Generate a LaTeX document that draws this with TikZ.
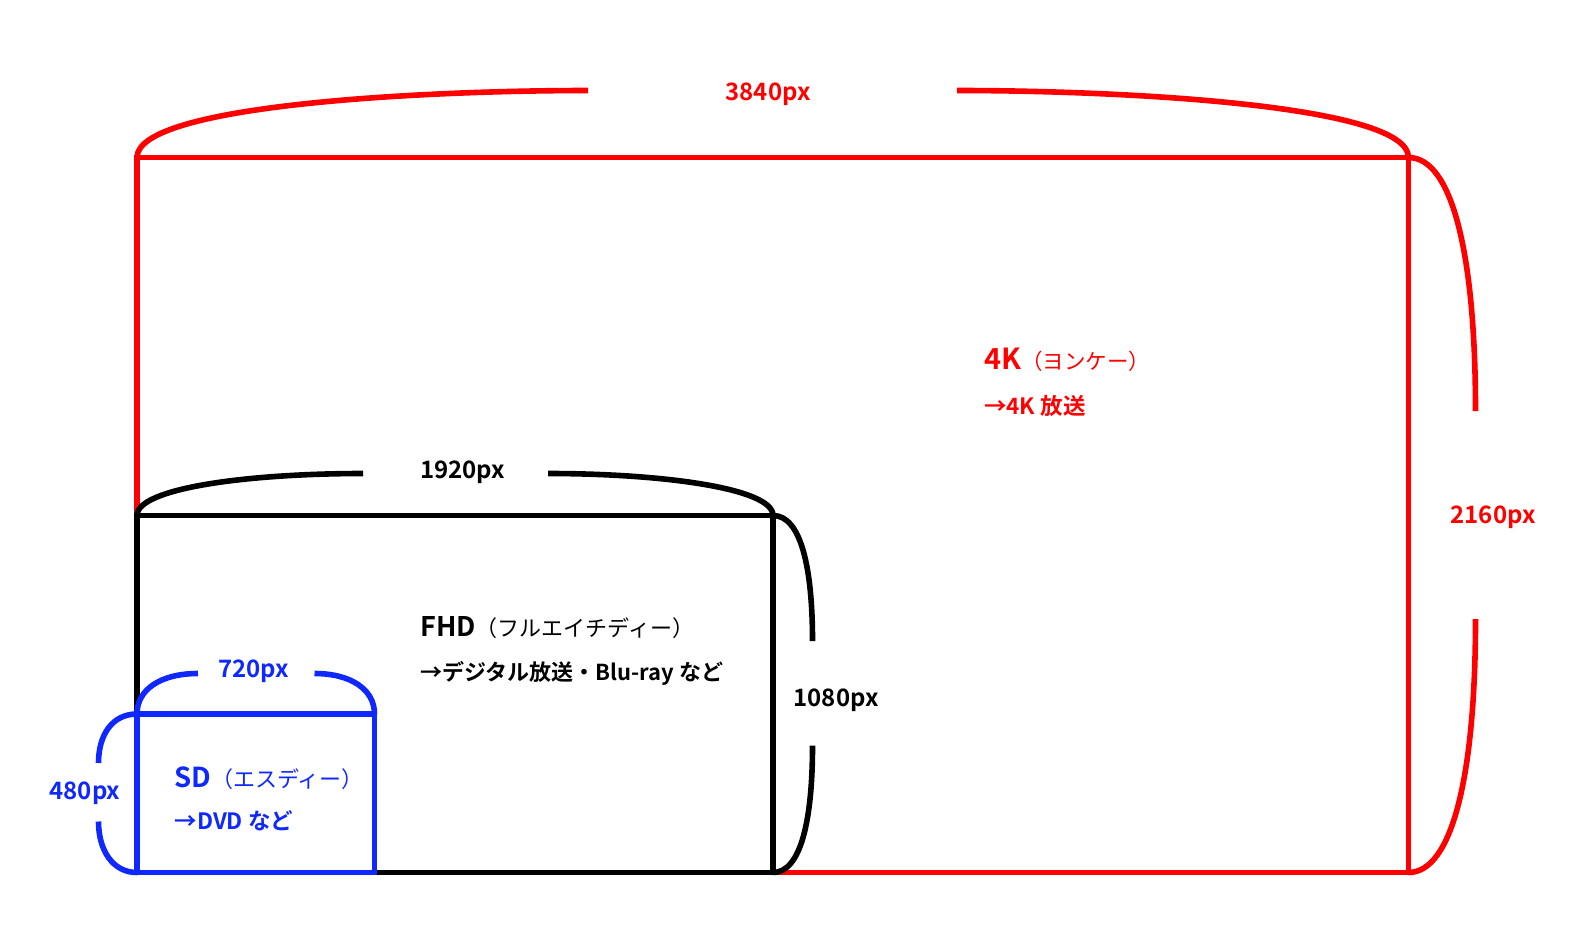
\documentclass[tikz,border=0pt]{standalone}
\usepackage{fontspec}
\setmainfont{Noto Sans CJK JP}[BoldFont={Noto Sans CJK JP Bold}]
\definecolor{kred}{RGB}{255,0,0}
\definecolor{sdblue}{RGB}{14,40,255}

\begin{document}
\begin{tikzpicture}[x=1pt,y=1pt,yscale=-1,xscale=1,
  frame/.style={line width=5.6pt},
  pxlabel/.style={inner sep=0.75pt,font=\bfseries\fontsize{24}{29}\selectfont},
  titletext/.style={anchor=base west,inner sep=0pt}]
\useasboundingbox (0,0) rectangle (1590,948);

% corners
\coordinate (kTL) at (137,157.5);
\coordinate (kTR) at (1408.5,157.5);
\coordinate (kBR) at (1408.5,872.5);
\coordinate (fTL) at (137,515.5);
\coordinate (fTR) at (773,515.5);
\coordinate (fBR) at (773,872.5);
\coordinate (sTL) at (137,714);
\coordinate (sTR) at (374.5,714);
\coordinate (sBL) at (137,872.5);
\coordinate (sBR) at (374.5,872.5);

% Text Node
\node (kw) [pxlabel,text=kred] at (768,94.5) {3840px};
\node (kh) [pxlabel,text=kred] at (1493,517) {2160px};
\node (fw) [pxlabel] at (462.5,472.5) {1920px};
\node (fh) [pxlabel] at (836,700) {1080px};
\node (sw) [pxlabel,text=sdblue] at (253.5,671.5) {720px};
\node (sh) [pxlabel,text=sdblue] at (85,793) {480px};

% bracket gap ends
\coordinate (kwL) at (588,90.5);
\coordinate (kwR) at (957,90.5);
\coordinate (khT) at (1475.5,411);
\coordinate (khB) at (1475.5,619);
\coordinate (fwL) at (363,473.5);
\coordinate (fwR) at (548,473.5);
\coordinate (fhT) at (812.5,641);
\coordinate (fhB) at (812.5,745.5);
\coordinate (swL) at (198,673.5);
\coordinate (swR) at (314.5,673.5);
\coordinate (shT) at (98.5,763);
\coordinate (shB) at (98.5,821.5);

%Shape: 4K frame
\draw [frame,kred] (kTL) rectangle (kBR);
\draw [frame,kred] (kTL) .. controls (137,104.5) and (426,90.5) .. (kwL);
\draw [frame,kred] (kwR) .. controls (1119.5,90.5) and (1408.5,104.5) .. (kTR);
\draw [frame,kred] (kTR) .. controls (1452,157.5) and (1475.5,253.5) .. (khT);
\draw [frame,kred] (khB) .. controls (1475.5,776) and (1452,872.5) .. (kBR);

%Shape: FHD frame
\draw [frame] (fTL) rectangle (fBR);
\draw [frame] (fTL) .. controls (137,488) and (248.5,473.5) .. (fwL);
\draw [frame] (fwR) .. controls (661,473.5) and (773,488) .. (fTR);
\draw [frame] (fTR) .. controls (801,515.5) and (812.5,568) .. (fhT);
\draw [frame] (fhB) .. controls (812.5,819.5) and (801,872.5) .. (fBR);

%Shape: SD frame
\draw [frame,sdblue] (sTL) rectangle (sBR);
\draw [frame,sdblue] (sTL) .. controls (137,689.5) and (160.5,673.5) .. (swL);
\draw [frame,sdblue] (swR) .. controls (351,673.5) and (374.5,689.5) .. (sTR);
\draw [frame,sdblue] (sTL) .. controls (112.5,714) and (98.5,734.5) .. (shT);
\draw [frame,sdblue] (shB) .. controls (98.5,850) and (112.5,872.5) .. (sBL);

% Text Node
\node (kname) [titletext,text=kred] at (984,369)
  {\bfseries\fontsize{29}{34}\selectfont 4K\mdseries\fontsize{21.5}{26}\selectfont（ヨンケー）};
\node (kuse) [titletext,text=kred] at (984,414)
  {\bfseries\fontsize{22.5}{26}\selectfont →4K 放送};
\node (fname) [titletext] at (420,636)
  {\bfseries\fontsize{27}{32}\selectfont FHD\mdseries\fontsize{22}{26}\selectfont（フルエイチディー）};
\node (fuse) [titletext] at (420,680)
  {\bfseries\fontsize{22}{26}\selectfont →デジタル放送・Blu-ray など};
\node (sname) [titletext,text=sdblue] at (174.5,787)
  {\bfseries\fontsize{27.5}{32}\selectfont SD\mdseries\fontsize{22}{26}\selectfont（エスディー）};
\node (suse) [titletext,text=sdblue] at (174.5,829.5)
  {\bfseries\fontsize{22.5}{26}\selectfont →DVD など};

\end{tikzpicture}
\end{document}
